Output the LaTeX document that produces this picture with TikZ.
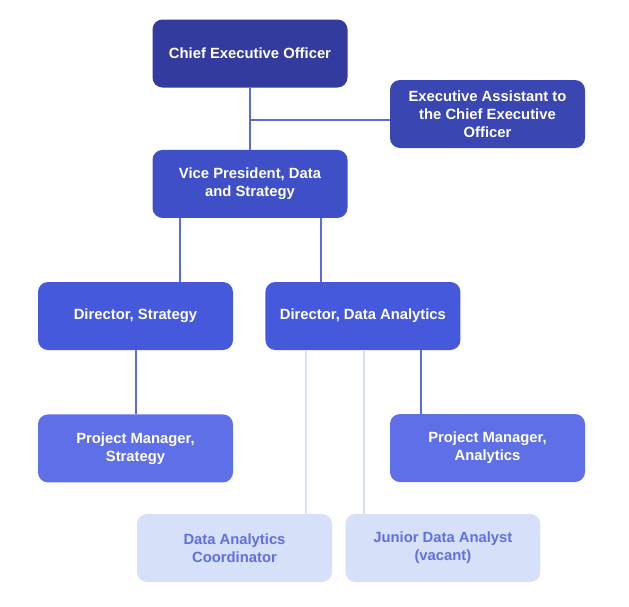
\documentclass[tikz,border=0pt]{standalone}
\usepackage{fontspec}
\setmainfont{Liberation Sans}
\usetikzlibrary{positioning}
\definecolor{ceoblue}{HTML}{343B9E}
\definecolor{eablue}{HTML}{3A46B2}
\definecolor{vpblue}{HTML}{3F4FC7}
\definecolor{dirblue}{HTML}{4659DC}
\definecolor{pmblue}{HTML}{5F6FE8}
\definecolor{vacfill}{HTML}{D6E0F8}
\definecolor{vactext}{HTML}{6070E2}
\definecolor{linkblue}{HTML}{5A6AE0}
\tikzset{
	x=1pt, y=-1pt, % pixel-like units, y going down
	post/.style={rounded corners=10pt, minimum width=195pt, minimum height=68pt, align=center, text=white, font=\fontsize{14.8}{17.8}\selectfont\bfseries}, % sets the look of each position box
	vacpost/.style={post, fill=vacfill, text=vactext}, % boxes of the light row
	link/.style={draw=linkblue, line width=2pt}, % reporting lines
	faintlink/.style={draw=vacfill, line width=2pt}, % lines to the light row
}
\begin{document}
\begin{tikzpicture}
		\useasboundingbox (0,0) rectangle (629,606);

		\node[post, fill=ceoblue](ceo) at (250,53.5){Chief Executive Officer};
		\node[post, fill=eablue](ea) at (487.5,114){Executive Assistant to\\the Chief Executive\\Officer};
		\node[post, fill=vpblue, below=62pt of ceo](vp){Vice President, Data\\and Strategy};
		\node[post, fill=dirblue](dstrat) at (135.5,316){Director, Strategy};
		\node[post, fill=dirblue, right=32pt of dstrat](ddata){Director, Data Analytics};
		\node[post, fill=pmblue, below=64pt of dstrat](pmstrat){Project Manager,\\Strategy};
		\node[post, fill=pmblue](pmdata) at (487.5,448){Project Manager,\\Analytics};
		\node[vacpost](coord) at (234.5,548){Data Analytics\\Coordinator};
		\node[vacpost, right=13pt of coord](junior){Junior Data Analyst\\(vacant)};

		\draw[link] (ceo.south) -- (vp.north);
		\draw[link] ([yshift=-6pt]ea.west) -- ([yshift=-6pt]ea.west -| ceo.south);
		\draw[link] ([xshift=-70.5pt]vp.south) -- ([xshift=-70.5pt]vp.south |- dstrat.north);
		\draw[link] ([xshift=70.5pt]vp.south) -- ([xshift=70.5pt]vp.south |- ddata.north);
		\draw[link] (dstrat.south) -- (pmstrat.north);
		\draw[link] ([xshift=58.5pt]ddata.south) -- ([xshift=58.5pt]ddata.south |- pmdata.north);
		\draw[faintlink] ([xshift=-56.5pt]ddata.south) -- ([xshift=-56.5pt]ddata.south |- coord.north);
		\draw[faintlink] ([xshift=1.5pt]ddata.south) -- ([xshift=1.5pt]ddata.south |- junior.north);

	\end{tikzpicture}
\end{document}
